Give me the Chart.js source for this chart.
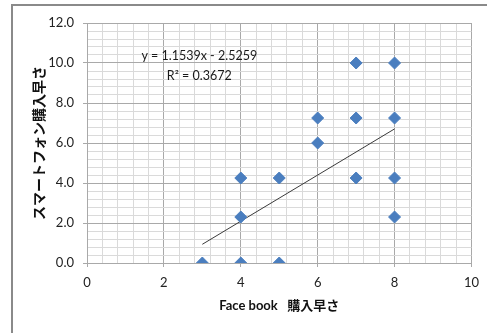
<!DOCTYPE html>
<html>
<head>
<meta charset="utf-8">
<script src="https://cdn.jsdelivr.net/npm/chart.js@4"></script>
<style>
  html, body { margin: 0; padding: 0; background: #fff; }
  #wrap { width: 487px; height: 333px; }
</style>
</head>
<body>
<div id="wrap"><canvas id="chart" width="487" height="333"></canvas></div>
<script>
// Purchase timing: Facebook (x) vs smartphone (y)
const fbSpeed = [3, 4, 4, 4, 5, 5, 6, 6, 7, 7, 7, 8, 8, 8, 8];
const phoneSpeed = [0.0, 0.0, 2.3, 4.25, 0.0, 4.25, 6.0, 7.25, 4.25, 7.25, 10.0, 2.3, 4.25, 7.25, 10.0];

// Linear trend line (as printed on the chart)
const trendSlope = 1.1539;
const trendIntercept = -2.5259;
const trendR2 = 0.3672;
const trendX = [3, 8];

const xTitle = 'Face book   購入早さ';
const yTitle = 'スマートフォン購入早さ';

const FONT = 'Lato, "Noto Sans CJK JP", sans-serif';
const TITLE_FONT = 'Lato, "Noto Sans CJK JP", sans-serif';

const points = fbSpeed.map((x, i) => ({ x: x, y: phoneSpeed[i] }));
const trend = trendX.map(x => ({ x: x, y: trendSlope * x + trendIntercept }));

const isMajor = v => Math.abs(v / 2 - Math.round(v / 2)) < 1e-6;
const gridColor = ctx => isMajor(ctx.tick.value) ? '#a9a9a9' : '#dadada';
const tickMarkColor = ctx => isMajor(ctx.tick.value) ? '#a9a9a9' : 'rgba(0,0,0,0)';

// gray frame along top and left edges
const framePlugin = {
  id: 'frame',
  beforeDraw(chart) {
    const c = chart.ctx;
    c.save();
    c.strokeStyle = '#8a8a8a';
    c.lineWidth = 2;
    c.beginPath();
    c.moveTo(12, 333);
    c.lineTo(12, 5);
    c.lineTo(487, 5);
    c.stroke();
    c.restore();
  }
};

// equation + R² label
const equationPlugin = {
  id: 'equation',
  afterDatasetsDraw(chart) {
    const c = chart.ctx;
    const xs = chart.scales.x, ys = chart.scales.y;
    const cx = xs.getPixelForValue(2.92);
    c.save();
    c.font = '12.5px ' + FONT;
    c.fillStyle = '#1a1a1a';
    c.textAlign = 'center';
    c.textBaseline = 'middle';
    const sign = trendIntercept < 0 ? ' - ' : ' + ';
    c.fillText('y = ' + trendSlope.toFixed(4) + 'x' + sign + Math.abs(trendIntercept).toFixed(4), cx, ys.getPixelForValue(10.35));
    c.fillText('R² = ' + trendR2.toFixed(4), cx, ys.getPixelForValue(9.35));
    c.restore();
  }
};

const ctx = document.getElementById('chart').getContext('2d');
new Chart(ctx, {
  type: 'scatter',
  data: {
    datasets: [
      {
        data: points,
        pointStyle: 'rectRot',
        pointRadius: 6,
        backgroundColor: '#4a7ebf',
        borderColor: '#4a7ebf',
        borderWidth: 1,
        order: 1
      },
      {
        data: trend,
        showLine: true,
        pointRadius: 0,
        borderColor: '#3a3a3a',
        borderWidth: 1,
        order: 2
      }
    ]
  },
  options: {
    responsive: false,
    animation: false,
    layout: { padding: { top: 23, right: 15, left: 0, bottom: 0 } },
    plugins: {
      legend: { display: false },
      tooltip: { enabled: false }
    },
    scales: {
      x: {
        type: 'linear',
        min: 0,
        max: 10,
        afterFit: s => { s.height = 70; },
        ticks: {
          stepSize: 0.4,
          padding: 8,
          maxRotation: 0,
          autoSkip: false,
          color: '#222',
          font: { family: FONT, size: 13 },
          callback: v => isMajor(v) ? String(Math.round(v)) : ''
        },
        grid: { color: gridColor, tickColor: tickMarkColor, tickLength: 4, lineWidth: 1 },
        border: { color: '#a9a9a9' },
        title: {
          display: true,
          text: xTitle,
          color: '#111',
          font: { family: TITLE_FONT, size: 13, weight: 'bold' },
          padding: { top: 0, bottom: 19 }
        }
      },
      y: {
        type: 'linear',
        min: 0,
        max: 12,
        afterFit: s => { s.width = 87; },
        ticks: {
          stepSize: 0.4,
          padding: 9,
          autoSkip: false,
          color: '#222',
          font: { family: FONT, size: 13 },
          callback: v => isMajor(v) ? v.toFixed(1) : ''
        },
        grid: { color: gridColor, tickColor: tickMarkColor, tickLength: 4, lineWidth: 1 },
        border: { color: '#a9a9a9' },
        title: {
          display: true,
          text: yTitle,
          color: '#111',
          font: { family: TITLE_FONT, size: 14, weight: 'bold' },
          padding: { top: 31, bottom: 0 }
        }
      }
    }
  },
  plugins: [framePlugin, equationPlugin]
});
</script>
</body>
</html>
